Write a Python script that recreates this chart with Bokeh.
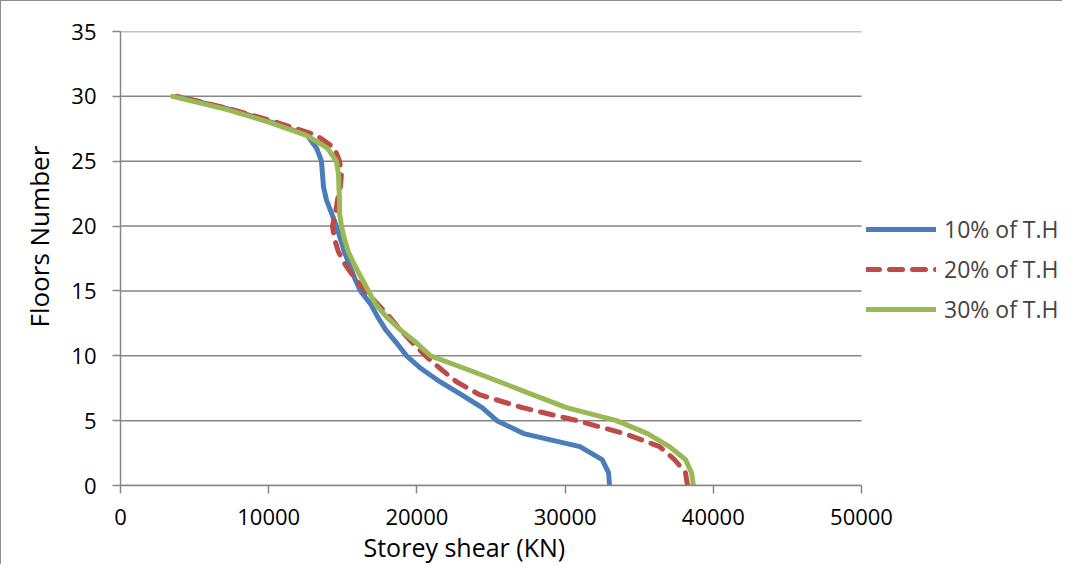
from bokeh.plotting import figure
from bokeh.models import (ColumnDataSource, Range1d, FixedTicker, Legend, LegendItem, Title)
from bokeh.embed import file_html
from bokeh.resources import INLINE

floors = list(range(0, 31))
shear_10 = [33000, 32930, 32500, 31000, 27200, 25400, 24400, 23000, 21550, 20300,
            19300, 18620, 17900, 17350, 16870, 16190, 15790, 15450, 15110, 14840,
            14570, 14240, 13900, 13700, 13630, 13560, 13230, 12600, 10200, 7400, 3800]
shear_20 = [38260, 38120, 37380, 36370, 34010, 30800, 27130, 24220, 22670, 21590,
            20580, 19700, 18890, 18150, 17340, 16530, 15790, 15180, 14710, 14440,
            14300, 14510, 14640, 14840, 14910, 14780, 14440, 13230, 10530, 7490, 3850]
shear_30 = [38660, 38530, 38120, 37040, 35560, 33470, 30100, 27800, 25570, 23280,
            20920, 19970, 18890, 17950, 17200, 16730, 16260, 15790, 15380, 15110,
            14910, 14780, 14780, 14740, 14710, 14570, 13970, 12550, 10050, 7150, 3510]
series_names = ["10% of T.H", "20% of T.H", "30% of T.H"]
x_ticks = [0, 10000, 20000, 30000, 40000, 50000]
y_ticks = [0, 5, 10, 15, 20, 25, 30, 35]
x_title = "Storey shear (KN)"
y_title = "Floors  Number"

FONT = "Open Sans"
GRID = "#868686"

# frame is widened to the right (beyond the last tick) so the legend sits inside it
p = figure(width=1062, height=564, output_backend="svg", toolbar_location=None,
           x_range=Range1d(0, 63630), y_range=Range1d(0, 35),
           min_border_left=119, min_border_right=0, min_border_top=30, min_border_bottom=80)
p.outline_line_color = None
p.styles = {"border-left": "1px solid #8c8c8c", "border-top": "1px solid #8c8c8c"}

p.xgrid.grid_line_color = None
p.ygrid.grid_line_color = None

# horizontal gridlines limited to the axis extent
p.segment(x0=x_ticks[0], x1=x_ticks[-1], y0=y_ticks, y1=y_ticks,
          line_color=GRID, line_width=1.5, level="underlay")

for ax, ticks in ((p.xaxis[0], x_ticks), (p.yaxis[0], y_ticks)):
    ax.ticker = FixedTicker(ticks=ticks)
    ax.axis_line_color = GRID
    ax.axis_line_width = 1.5
    ax.major_tick_line_color = GRID
    ax.major_tick_line_width = 1.5
    ax.major_tick_out = 8
    ax.major_tick_in = 0
    ax.minor_tick_line_color = None
    ax.major_label_text_font = FONT
    ax.major_label_text_font_size = "22px"
    ax.major_label_text_color = "black"
p.xaxis.bounds = (x_ticks[0], x_ticks[-1])
p.xaxis.major_label_standoff = 15
p.yaxis.major_label_standoff = 16

src = ColumnDataSource(dict(f=floors, s10=shear_10, s20=shear_20, s30=shear_30))
r1 = p.line("s10", "f", source=src, line_color="#4A7EBB", line_width=5, line_cap="round", line_join="round")
r2 = p.line("s20", "f", source=src, line_color="#BE4B48", line_width=5, line_dash="13 10", line_cap="round", line_join="round")
r3 = p.line("s30", "f", source=src, line_color="#98B954", line_width=5, line_cap="round", line_join="round")

legend = Legend(items=[LegendItem(label=series_names[0], renderers=[r1]),
                       LegendItem(label=series_names[1], renderers=[r2]),
                       LegendItem(label=series_names[2], renderers=[r3])],
                location=(746, 156), orientation="vertical",
                glyph_width=70, glyph_height=40, label_height=40, spacing=0,
                padding=0, margin=0, label_standoff=8,
                label_text_font=FONT, label_text_font_size="23px",
                border_line_alpha=0, background_fill_alpha=0)
p.add_layout(legend, "center")

p.add_layout(Title(text=x_title, align="left", offset=243, text_font=FONT,
                   text_font_size="25px", text_font_style="normal", text_color="black",
                   standoff=0), "below")
p.add_layout(Title(text=y_title, align="left", offset=158, text_font=FONT,
                   text_font_size="26px", text_font_style="normal", text_color="black",
                   standoff=24), "left")

open("out.html", "w").write(file_html(p, INLINE))
